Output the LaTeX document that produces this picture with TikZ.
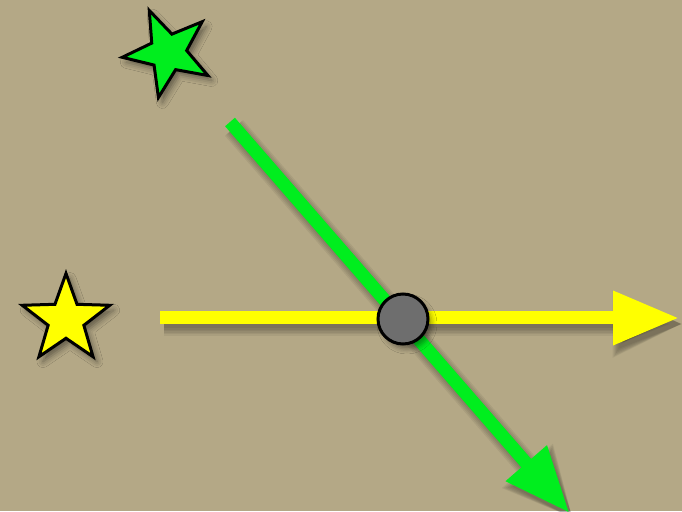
\documentclass[tikz,border=0pt]{standalone}
\usetikzlibrary{arrows.meta,shapes.geometric,shadows.blur}
\definecolor{bgtan}{RGB}{180,168,134}
\definecolor{brightgreen}{RGB}{0,238,30}
\definecolor{brightyellow}{RGB}{255,255,0}
\definecolor{dotgray}{RGB}{110,110,110}
\tikzset{
  starnode/.style={star, star points=5, star point ratio=2.45, minimum size=92pt,
    inner sep=0pt, draw=black, line width=3pt, line join=miter,
    blur shadow={shadow xshift=4pt, shadow yshift=-5pt, shadow blur radius=6pt, shadow opacity=45}},
  dotnode/.style={circle, minimum size=50pt, inner sep=0pt, draw=black, line width=3pt, fill=dotgray,
    blur shadow={shadow xshift=4pt, shadow yshift=-5pt, shadow blur radius=5pt, shadow opacity=40}},
  rayline/.style={line width=13pt, -{Triangle[length=66pt,width=51pt]}},
  rayshadow/.style={line width=#1, black, opacity=0.06,
    -{Triangle[length=66pt+0.4*#1-5.2pt,width=51pt+#1-13pt]}},
}
\begin{document}
\begin{tikzpicture}[x=1pt,y=1pt]
\fill[bgtan] (0,0) rectangle (682,511);
\useasboundingbox (0,0) rectangle (682,511);
% coordinates
\coordinate (gs) at (230,389);
\coordinate (ge) at (569.5,-2);
\coordinate (ys) at (160,193);
\coordinate (ye) at (679,193);
% shadows of the rays
\foreach \w in {9pt,12pt,15pt,18pt,21pt,24pt}{
  \draw[rayshadow=\w] ([xshift=4pt,yshift=-6pt]gs) -- ([xshift=4pt,yshift=-6pt]ge);
  \draw[rayshadow=\w] ([xshift=4pt,yshift=-6pt]ys) -- ([xshift=4pt,yshift=-6pt]ye);
}
% rays
\draw[rayline, draw=brightgreen, fill=brightgreen] (gs) -- (ge);
\draw[rayline, draw=brightyellow, fill=brightyellow] (ys) -- (ye);
% nodes
\node[dotnode] (dot) at (403,192) {};
\node[starnode, fill=brightyellow] (ystar) at (66,191.5) {};
\node[starnode, fill=brightgreen, shape border rotate=24] (gstar) at (168,458.5) {};
\end{tikzpicture}
\end{document}
